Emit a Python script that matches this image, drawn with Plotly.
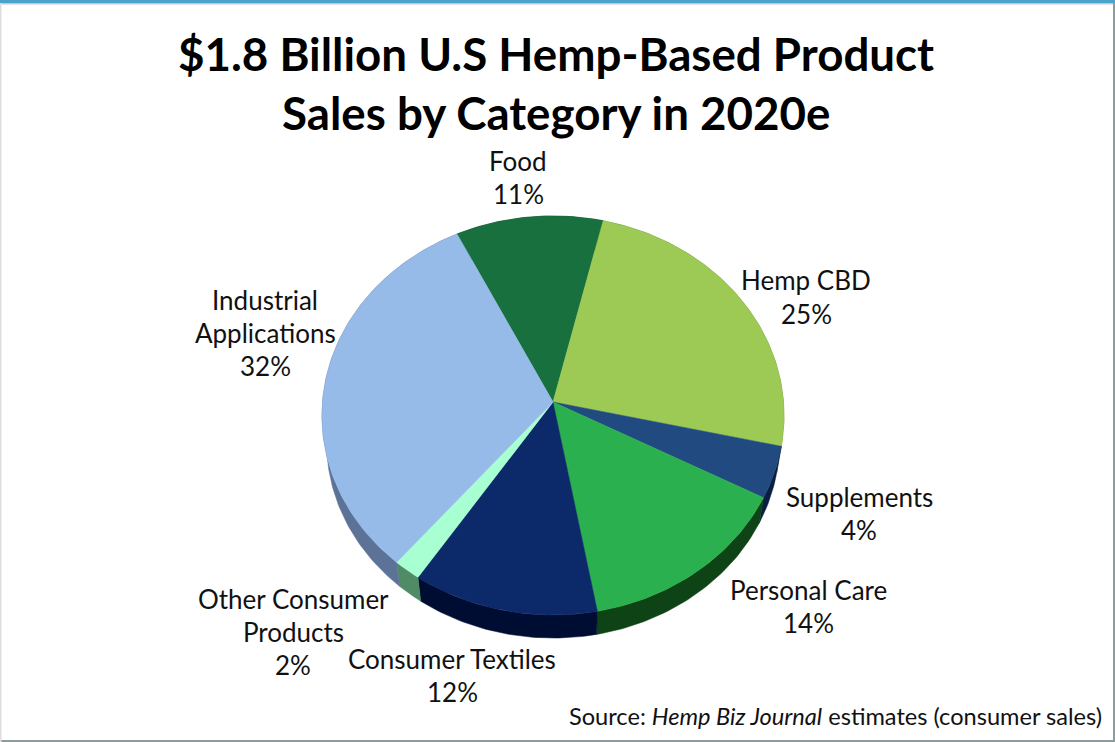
import math
import plotly.graph_objects as go

# ---- data ----
categories = ["Food", "Hemp CBD", "Supplements", "Personal Care", "Consumer Textiles",
              "Other Consumer Products", "Industrial Applications"]
# unrounded shares as read from the slice boundaries; they round to the printed labels
shares = [11.0, 24.8, 4.2, 14.4, 12.2, 1.8, 31.6]
top_colors = ["#17703d", "#9dca55", "#214b80", "#2bb04f", "#0c2a69", "#a8ffd2", "#97bbe9"]
wall_colors = ["#0e4526", "#5f7d33", "#0a1e42", "#0e4315", "#000d33", "#4f8c66", "#5c7397"]
title_lines = ["$1.8 Billion U.S Hemp-Based Product", "Sales by Category in 2020e"]
slice_labels = [
    ["Food", "11%"],
    ["Hemp CBD", "25%"],
    ["Supplements", "4%"],
    ["Personal Care", "14%"],
    ["Consumer Textiles", "12%"],
    ["Other Consumer", "Products", "2%"],
    ["Industrial", "Applications", "32%"],
]
label_centres = [(518, 160.5), (806, 280.5), (859, 496.5), (808, 589.5), (452, 658.5), (293, 598.5), (265, 299.5)]

W, H = 1115, 742
APEX_X, APEX_Y = 553, 402
START_DEG = -26.2
A, B, K = 230.5, 198.6, 0.0676   # perspective projection of the pie disc
WALL_SCALE, WALL_DROP = 0.98, 27.3
LINE_STEP = 33.3
LABEL_SIZE = 26


def rim(theta):
    u, v = math.sin(theta), math.cos(theta)
    w = 1 + K * v
    return A * u / w, B * v / w


def arc(a0, a1):
    n = max(4, int(abs(a1 - a0) * 60))
    return [rim(a0 + (a1 - a0) * i / n) for i in range(n + 1)]


fig = go.Figure()
total = sum(shares)
edges = [math.radians(START_DEG)]
for s in shares:
    edges.append(edges[-1] + 2 * math.pi * s / total)

# side wall of the disc, drawn first so that the top face covers it
for i, cat in enumerate(categories):
    top = arc(edges[i], edges[i + 1])
    bot = [(x * WALL_SCALE, y * WALL_SCALE - WALL_DROP) for x, y in top]
    pts = top + bot[::-1] + top[:1]
    fig.add_trace(go.Scatter(x=[p[0] for p in pts], y=[p[1] for p in pts], mode="lines",
                             fill="toself", fillcolor=wall_colors[i],
                             line=dict(width=0.5, color=wall_colors[i]),
                             hoverinfo="skip", showlegend=False))

# top face
for i, cat in enumerate(categories):
    pts = [(0, 0)] + arc(edges[i], edges[i + 1]) + [(0, 0)]
    fig.add_trace(go.Scatter(x=[p[0] for p in pts], y=[p[1] for p in pts], mode="lines",
                             fill="toself", fillcolor=top_colors[i],
                             line=dict(width=0.5, color=top_colors[i]),
                             name=cat, text=f"{cat}: {round(shares[i])}%", hoverinfo="text",
                             showlegend=False))

annotations = []
for lines, (cx, cy) in zip(slice_labels, label_centres):
    for j, line in enumerate(lines):
        annotations.append(dict(x=cx / W, y=1 - (cy + j * LINE_STEP) / H, xref="paper", yref="paper",
                                text=line, showarrow=False, xanchor="center", yanchor="middle",
                                font=dict(size=LABEL_SIZE, color="#111111")))
for line, yy in zip(title_lines, (53.5, 112.5)):
    annotations.append(dict(x=556 / W, y=1 - yy / H, xref="paper", yref="paper", text=f"<b>{line}</b>",
                            showarrow=False, xanchor="center", yanchor="middle",
                            font=dict(size=45.7, color="#000000")))
annotations.append(dict(x=1103.5 / W, y=1 - 715.5 / H, xref="paper", yref="paper",
                        text="Source: <i>Hemp Biz Journal</i> estimates (consumer sales)",
                        showarrow=False, xanchor="right", yanchor="middle",
                        font=dict(size=23.6, color="#111111")))

frame = [
    dict(type="rect", xref="paper", yref="paper", x0=0, x1=1, y0=1 - 3 / H, y1=1,
         fillcolor="#4aa3c8", line_width=0),
    dict(type="rect", xref="paper", yref="paper", x0=0, x1=1, y0=1 - 4.5 / H, y1=1 - 3 / H,
         fillcolor="#c9c9c9", line_width=0),
    dict(type="rect", xref="paper", yref="paper", x0=1113 / W, x1=1, y0=0, y1=1 - 3 / H,
         fillcolor="#8c9c9c", line_width=0),
    dict(type="rect", xref="paper", yref="paper", x0=0, x1=1, y0=0, y1=2 / H,
         fillcolor="#8c9c9c", line_width=0),
    dict(type="rect", xref="paper", yref="paper", x0=0, x1=1.5 / W, y0=0, y1=1 - 3 / H,
         fillcolor="#dddddd", line_width=0),
]

fig.update_layout(
    width=W, height=H, margin=dict(l=0, r=0, t=0, b=0),
    paper_bgcolor="#ffffff", plot_bgcolor="#ffffff",
    font=dict(family="Lato, Carlito, sans-serif"),
    xaxis=dict(visible=False, range=[-APEX_X, W - APEX_X], fixedrange=True),
    yaxis=dict(visible=False, range=[APEX_Y - H, APEX_Y], fixedrange=True),
    annotations=annotations, shapes=frame, showlegend=False,
)

fig.write_html("out.html", config=dict(displayModeBar=False),
               post_script="document.body.style.margin='0';")
